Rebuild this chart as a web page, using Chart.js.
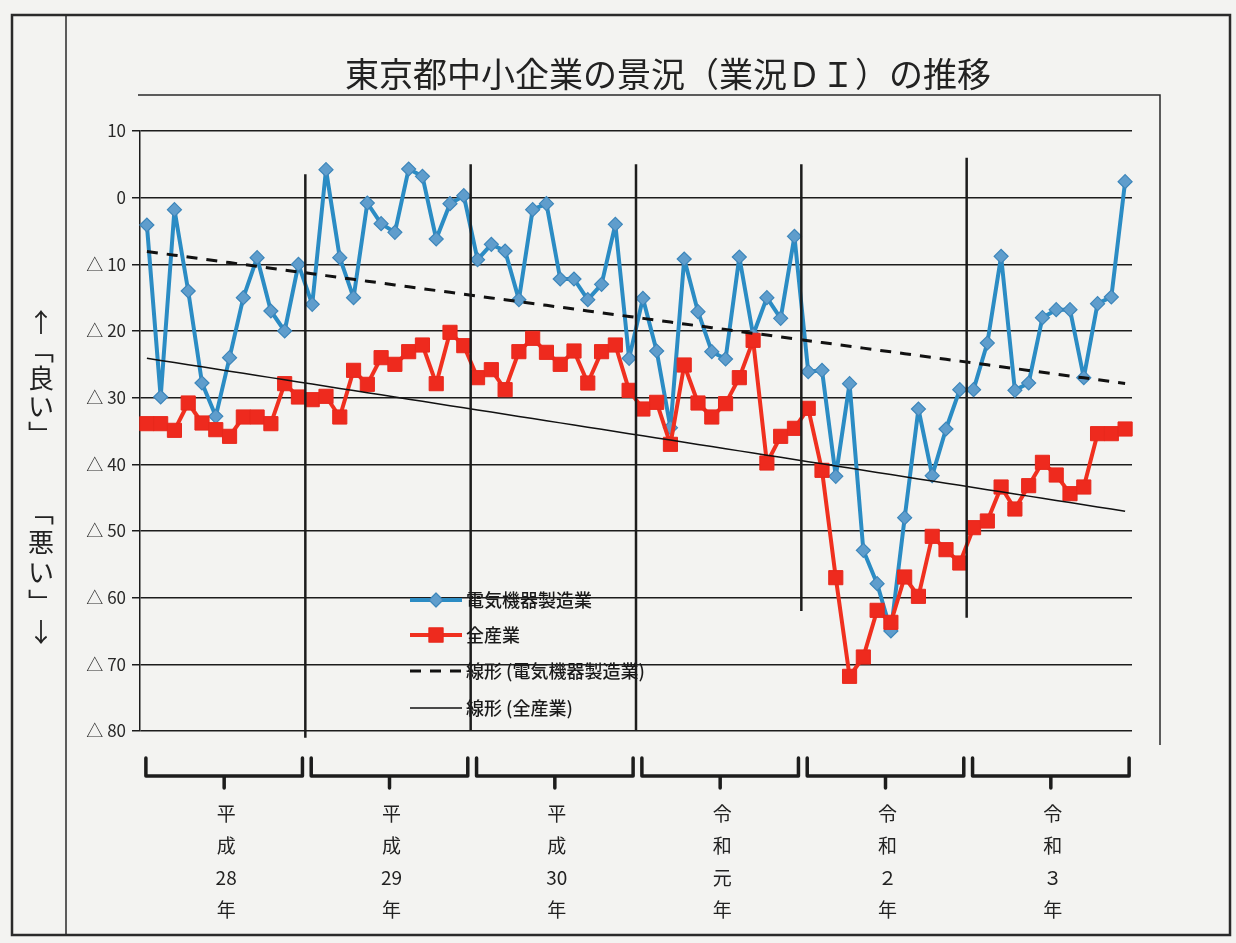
<!DOCTYPE html>
<html lang="ja">
<head>
<meta charset="utf-8">
<title>東京都中小企業の景況（業況ＤＩ）の推移</title>
<script src="https://cdn.jsdelivr.net/npm/chart.js@4.4.1/dist/chart.umd.min.js"></script>
<style>
  html, body { margin: 0; padding: 0; background: #f3f3f1; }
  #wrap { position: relative; width: 1236px; height: 943px; }
  canvas { display: block; }
</style>
</head>
<body>
<div id="wrap"><canvas id="chart" width="1236" height="943"></canvas></div>
<script>
// --- データ ---
const years = ['平成28年', '平成29年', '平成30年', '令和元年', '令和２年', '令和３年'];
const monthsPerYear = 12;

// 電気機器製造業 (月次 DI)
const denki = [
  -4.1, -29.9, -1.8, -14.0, -27.8, -32.8, -24.0, -15.0, -9.0, -17.0, -20.0, -10.0,
  -16.0, 4.2, -9.0, -15.0, -0.8, -3.9, -5.2, 4.3, 3.2, -6.2, -0.9, 0.3,
  -9.3, -7.0, -8.0, -15.3, -1.8, -0.9, -12.2, -12.2, -15.3, -13.0, -4.0, -24.1,
  -15.1, -23.0, -34.5, -9.2, -17.1, -23.1, -24.2, -8.9, -20.6, -15.0, -18.1, -5.8,
  -26.1, -25.9, -41.8, -27.9, -52.9, -57.9, -65.0, -48.0, -31.7, -41.7, -34.7, -28.8,
  -28.8, -21.8, -8.8, -28.9, -27.8, -18.0, -16.8, -16.8, -27.0, -15.9, -14.9, 2.4
];

// 全産業 (月次 DI)
const zensangyo = [
  -33.9, -33.9, -34.9, -30.8, -33.8, -34.8, -35.8, -32.9, -32.9, -33.9, -27.9, -29.9,
  -30.3, -29.8, -32.9, -25.9, -28.0, -24.0, -25.0, -23.1, -22.1, -27.9, -20.2, -22.2,
  -27.0, -25.8, -28.8, -23.1, -21.1, -23.2, -25.0, -23.0, -27.8, -23.1, -22.1, -28.9,
  -31.7, -30.7, -37.0, -25.1, -30.8, -32.9, -30.9, -27.0, -21.4, -39.8, -35.8, -34.6,
  -31.6, -40.9, -57.0, -71.8, -68.9, -61.9, -63.7, -56.9, -59.8, -50.8, -52.8, -54.8,
  -49.5, -48.5, -43.4, -46.7, -43.2, -39.7, -41.6, -44.4, -43.4, -35.4, -35.4, -34.7
];

const yTicks = [10, 0, -10, -20, -30, -40, -50, -60, -70, -80];

// 月ラベル (年 × 月)
const labels = [];
years.forEach(y => {
  for (let m = 1; m <= monthsPerYear; m++) labels.push(y + m + '月');
});

// 線形近似 (最小二乗)
function linearTrend(values) {
  const n = values.length;
  let sx = 0, sy = 0, sxx = 0, sxy = 0;
  values.forEach((v, i) => { sx += i; sy += v; sxx += i * i; sxy += i * v; });
  const b = (n * sxy - sx * sy) / (n * sxx - sx * sx);
  const a = (sy - b * sx) / n;
  return values.map((v, i) => a + b * i);
}

const JP = "'Noto Sans CJK JP', 'Noto Sans', sans-serif";
const BLUE_LINE = '#2b8cc4';
const BLUE_POINT = '#5f9dcc';
const RED_LINE = '#f0301f';
const RED_POINT = '#ee2a1e';
const INK = '#1c1c1c';

// 区切り線の上端・下端 (値の単位)
const dividerTop = [3.5, 5, 5, 5, 6];
const dividerBottom = [-81, -80, -80, -62, -63];

function drawMarker(ctx, style, x, y, r, fill, stroke) {
  ctx.save();
  ctx.fillStyle = fill;
  ctx.strokeStyle = stroke;
  ctx.lineWidth = 1.2;
  ctx.beginPath();
  if (style === 'rectRot') {
    ctx.moveTo(x, y - r); ctx.lineTo(x + r, y); ctx.lineTo(x, y + r); ctx.lineTo(x - r, y);
  } else {
    const s = r * Math.SQRT1_2;
    ctx.rect(x - s, y - s, 2 * s, 2 * s);
  }
  ctx.closePath();
  ctx.fill();
  ctx.stroke();
  ctx.restore();
}

const decor = {
  id: 'decor',
  beforeDraw(chart) {
    const ctx = chart.ctx;
    ctx.save();
    ctx.fillStyle = '#f3f3f1';
    ctx.fillRect(0, 0, chart.width, chart.height);

    // 外枠
    ctx.strokeStyle = '#2a2a2a';
    ctx.lineWidth = 2.5;
    ctx.strokeRect(12, 15, 1218, 920);
    ctx.lineWidth = 1.5;
    ctx.beginPath();
    ctx.moveTo(66, 15); ctx.lineTo(66, 935);
    // プロットエリア枠 (上・右)
    ctx.moveTo(138, 95); ctx.lineTo(1160, 95); ctx.lineTo(1160, 745);
    ctx.stroke();

    // タイトル
    ctx.fillStyle = '#222';
    ctx.font = '34px ' + JP;
    ctx.textAlign = 'center';
    ctx.textBaseline = 'middle';
    ctx.fillText('東京都中小企業の景況（業況ＤＩ）の推移', 668, 74);

    // 左側の縦書き
    ctx.font = '26px ' + JP;
    const good = ['↑', '﹁', '良', 'い', '﹂'];
    const bad = ['﹁', '悪', 'い', '﹂', '↓'];
    good.forEach((c, i) => ctx.fillText(c, 41, 322 + i * 28));
    bad.forEach((c, i) => ctx.fillText(c, 41, 512 + i * 30));
    ctx.restore();
  },
  afterDatasetsDraw(chart) {
    const ctx = chart.ctx;
    const xs = chart.scales.x, ys = chart.scales.y;
    ctx.save();
    ctx.strokeStyle = INK;
    ctx.lineWidth = 2.5;
    for (let k = 1; k < years.length; k++) {
      const i = k * monthsPerYear;
      const x = (xs.getPixelForValue(i - 1) + xs.getPixelForValue(i)) / 2;
      ctx.beginPath();
      ctx.moveTo(x, ys.getPixelForValue(dividerTop[k - 1]));
      ctx.lineTo(x, ys.getPixelForValue(dividerBottom[k - 1]));
      ctx.stroke();
    }
    ctx.restore();
  },
  afterDraw(chart) {
    const ctx = chart.ctx;
    const xs = chart.scales.x;
    ctx.save();

    // 年ごとの括弧と縦書きラベル
    years.forEach((name, k) => {
      const x0 = xs.getPixelForValue(k * monthsPerYear) - 1;
      const x1 = xs.getPixelForValue(k * monthsPerYear + monthsPerYear - 1) + 4;
      const xc = (x0 + x1) / 2;
      ctx.strokeStyle = INK;
      ctx.lineWidth = 3.5;
      ctx.lineJoin = 'round';
      ctx.lineCap = 'round';
      ctx.beginPath();
      ctx.moveTo(x0, 758); ctx.lineTo(x0, 776); ctx.lineTo(x1, 776); ctx.lineTo(x1, 758);
      ctx.moveTo(xc, 776); ctx.lineTo(xc, 788);
      ctx.stroke();

      ctx.fillStyle = '#222';
      ctx.font = '19px ' + JP;
      ctx.textAlign = 'center';
      ctx.textBaseline = 'middle';
      const parts = name.match(/[0-9]+|./gu);
      parts.forEach((c, i) => ctx.fillText(c, xc + 2, 814 + i * 32));
    });

    // 凡例
    const ds = chart.data.datasets;
    const rows = [600, 635, 671, 708];
    ctx.font = '500 18px ' + JP;
    ctx.textAlign = 'left';
    ctx.textBaseline = 'middle';
    ds.forEach((d, i) => {
      const y = rows[i];
      ctx.strokeStyle = d.borderColor;
      ctx.lineWidth = d.borderWidth;
      ctx.setLineDash(d.borderDash || []);
      ctx.lineCap = 'butt';
      ctx.beginPath();
      ctx.moveTo(410, y); ctx.lineTo(462, y);
      ctx.stroke();
      ctx.setLineDash([]);
      if (d.pointRadius > 0) {
        drawMarker(ctx, d.pointStyle, 436, y, d.pointRadius, d.pointBackgroundColor, d.pointBorderColor);
      }
      ctx.fillStyle = '#1a1a1a';
      ctx.fillText(d.label, 466, y);
    });
    ctx.restore();
  }
};

new Chart(document.getElementById('chart').getContext('2d'), {
  type: 'line',
  data: {
    labels: labels,
    datasets: [
      {
        label: '電気機器製造業',
        data: denki,
        borderColor: BLUE_LINE,
        borderWidth: 4,
        borderJoinStyle: 'round',
        borderCapStyle: 'round',
        pointStyle: 'rectRot',
        pointRadius: 7,
        pointBackgroundColor: BLUE_POINT,
        pointBorderColor: '#3c86bb',
        pointBorderWidth: 1.2,
        tension: 0,
        order: 2
      },
      {
        label: '全産業',
        data: zensangyo,
        borderColor: RED_LINE,
        borderWidth: 4,
        borderJoinStyle: 'round',
        borderCapStyle: 'round',
        pointStyle: 'rect',
        pointRadius: 10,
        pointBackgroundColor: RED_POINT,
        pointBorderColor: '#e8281c',
        pointBorderWidth: 1,
        tension: 0,
        order: 1
      },
      {
        label: '線形 (電気機器製造業)',
        data: linearTrend(denki),
        borderColor: '#111',
        borderWidth: 3,
        borderDash: [11, 9],
        pointRadius: 0,
        order: 0
      },
      {
        label: '線形 (全産業)',
        data: linearTrend(zensangyo),
        borderColor: '#111',
        borderWidth: 1.5,
        pointRadius: 0,
        order: 0
      }
    ]
  },
  options: {
    responsive: false,
    devicePixelRatio: 1,
    animation: false,
    layout: { padding: { left: 70, right: 104, top: 131, bottom: 212 } },
    plugins: {
      legend: { display: false },
      title: { display: false },
      tooltip: { enabled: false }
    },
    scales: {
      x: { display: false, offset: true },
      y: {
        min: Math.min(...yTicks),
        max: Math.max(...yTicks),
        afterFit: s => { s.width = 70; },
        ticks: {
          stepSize: 10,
          padding: 6,
          color: '#2a2a2a',
          font: { family: JP, size: 17 },
          callback: v => v > 0 ? String(v) : (v === 0 ? '0' : '△ ' + (-v))
        },
        grid: { color: INK, lineWidth: 1.5, tickLength: 8 },
        border: { color: INK, width: 1.5 }
      }
    }
  },
  plugins: [decor]
});
</script>
</body>
</html>
